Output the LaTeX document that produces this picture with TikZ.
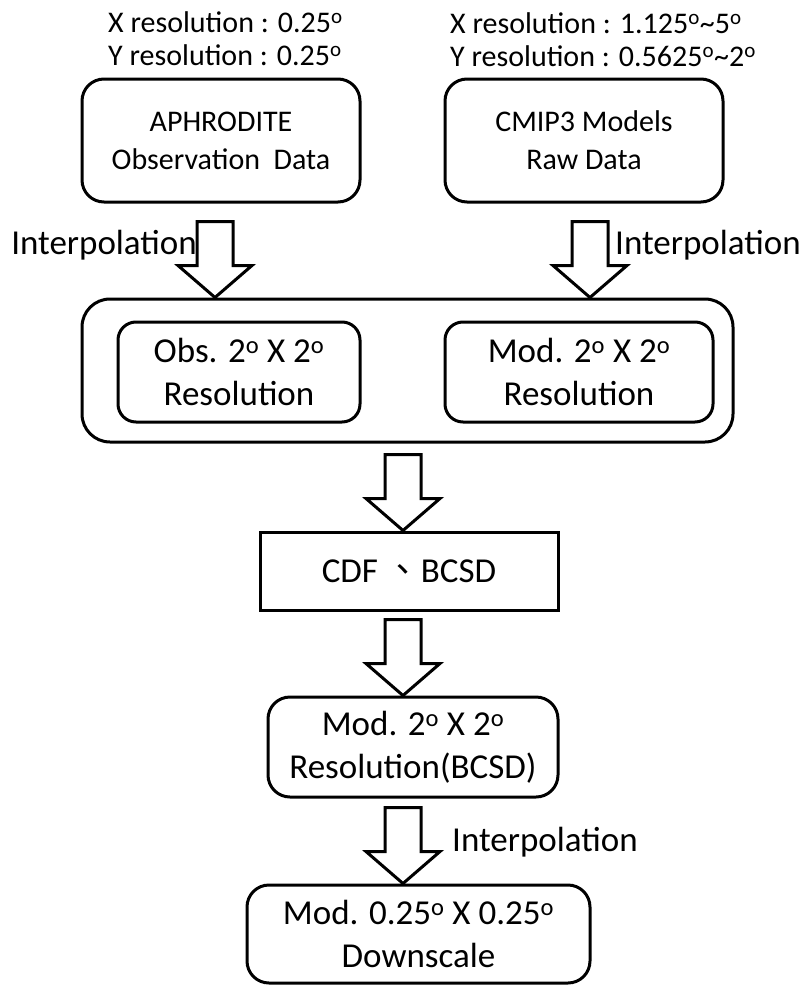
\documentclass[tikz,border=0pt]{standalone}
\usepackage{fontspec}
\setmainfont{Carlito}
\newfontfamily\cjk{Noto Sans CJK TC}
\usetikzlibrary{positioning}

\newcommand{\dg}{\textsuperscript{o}}

\begin{document}
\begin{tikzpicture}[x=1pt, y=1pt,
  box/.style={draw, line width=3pt, rounded corners=22pt, align=center, inner sep=0pt},
  sqbox/.style={draw, line width=3pt, align=center, inner sep=0pt},
  small/.style={font=\fontsize{30}{38}\selectfont},
  big/.style={font=\fontsize{35}{43}\selectfont},
  note/.style={align=left, inner sep=0pt, font=\fontsize{30}{33}\selectfont},
  fatarrow/.pic={\draw[line width=3pt, fill=white, miter limit=10] (0,0) -- (37,32) -- (18,32) -- (18,76) -- (-18,76) -- (-18,32) -- (-37,32) -- cycle;}]
  \useasboundingbox (0,0) rectangle (808,-985);

  \node[note, anchor=west] (resA) at (108,-39) {X resolution : 0.25\dg\\Y resolution : 0.25\dg};
  \node[note, anchor=west] (resB) at (450,-40) {X resolution : 1.125\dg\textasciitilde 5\dg\\Y resolution : 0.5625\dg\textasciitilde 2\dg};
  \node[box, small, minimum width=278pt, minimum height=123pt] (aphro) at (221,-140.5) {APHRODITE\\Observation\ \ Data};
  \node[box, small, minimum width=278pt, minimum height=123pt] (cmip) at (584,-140.5) {CMIP3 Models\\Raw Data};

  \node[box, rounded corners=28pt, minimum width=651pt, minimum height=143pt] (frame) at (407.5,-370.5) {};
  \node[box, big, rounded corners=18pt, minimum width=242pt, minimum height=100pt] (obs) at (239,-372) {Obs. 2\dg{} X 2\dg\\Resolution};
  \node[box, big, rounded corners=18pt, minimum width=268pt, minimum height=100pt] (mod) at (579,-372) {Mod. 2\dg{} X 2\dg\\Resolution};

  \node[sqbox, big, minimum width=298pt, minimum height=78pt] (cdf) at (409,-571) {CDF {\cjk 、}BCSD};
  \node[box, big, minimum width=290pt, minimum height=100pt] (bcsd) at (413,-747) {Mod. 2\dg{} X 2\dg\\Resolution(BCSD)};
  \node[box, big, minimum width=343pt, minimum height=98pt] (down) at (418.5,-934) {Mod. 0.25\dg{} X 0.25\dg\\Downscale};

  % block arrows, tip on the box below
  \coordinate (mid) at (403,0);
  \pic at ([xshift=-6pt]aphro.south |- frame.north) {fatarrow};
  \pic at ([xshift=6pt]cmip.south |- frame.north) {fatarrow};
  \pic at (mid |- cdf.north) {fatarrow};
  \pic at (mid |- bcsd.north) {fatarrow};
  \pic at (mid |- down.north) {fatarrow};

  \node[big, anchor=east, inner sep=0pt] (interpA) at (197,-245) {Interpolation};
  \node[big, anchor=west, inner sep=0pt] (interpB) at (615,-245) {Interpolation};
  \node[big, anchor=west, inner sep=0pt] (interpC) at (452,-842) {Interpolation};
\end{tikzpicture}
\end{document}
